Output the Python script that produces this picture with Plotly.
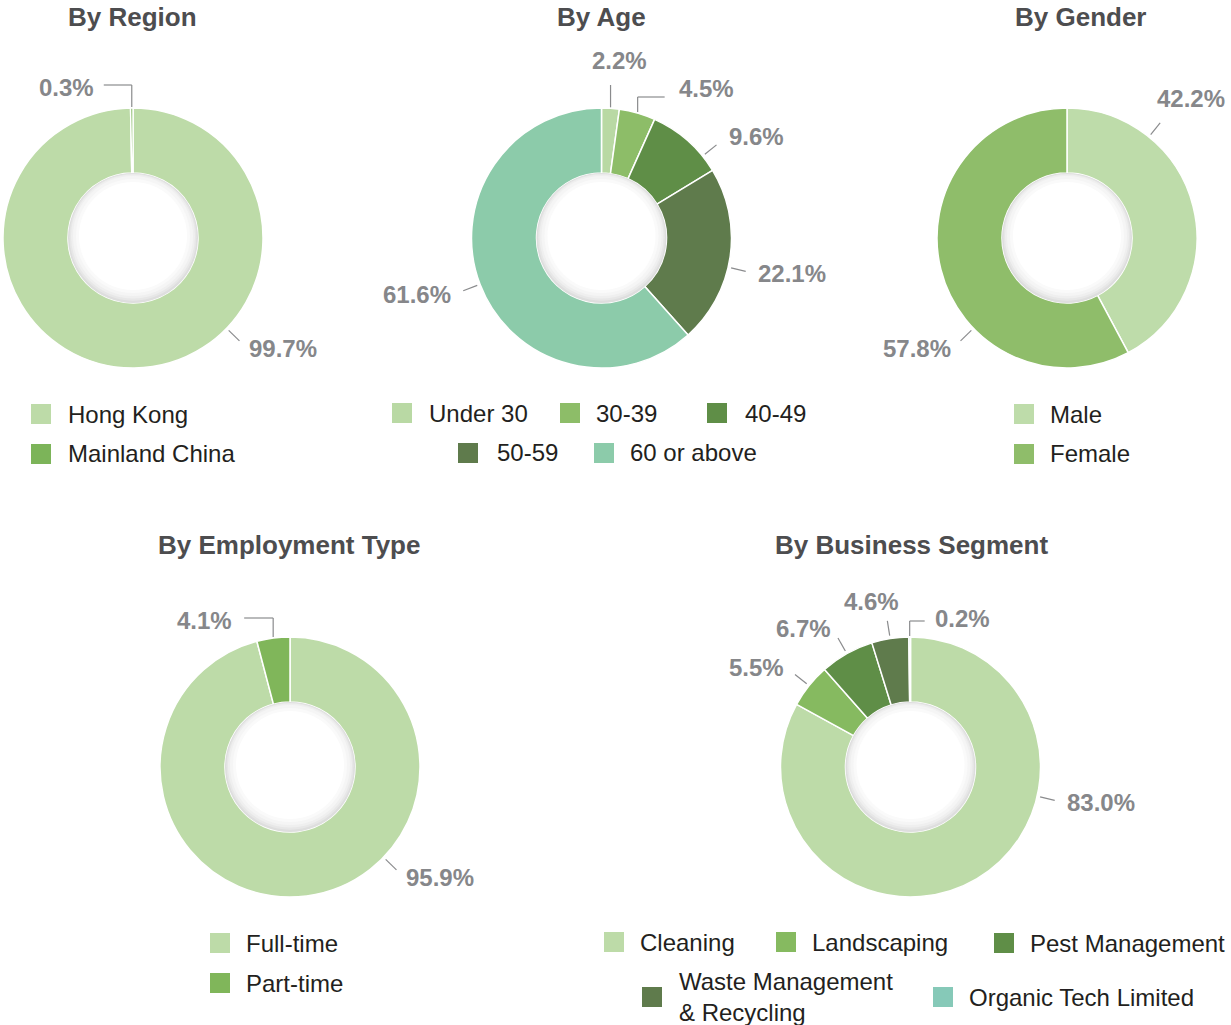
import math
import plotly.graph_objects as go

W, H = 1231, 1025

# ---------------- data ----------------
region_labels = ["Hong Kong", "Mainland China"]
region_values = [99.7, 0.3]

age_labels = ["Under 30", "30-39", "40-49", "50-59", "60 or above"]
age_values = [2.2, 4.5, 9.6, 22.1, 61.6]

gender_labels = ["Male", "Female"]
gender_values = [42.2, 57.8]

employment_labels = ["Full-time", "Part-time"]
employment_values = [95.9, 4.1]

segment_labels = ["Cleaning", "Landscaping", "Pest Management",
                  "Waste Management<br>& Recycling", "Organic Tech Limited"]
segment_values = [83.0, 5.5, 6.7, 4.6, 0.2]

# ---------------- styles ----------------
LIGHT = "#bddba8"
MID = "#86ba60"
DARK = "#5f8e47"
OLIVE = "#5f7b4c"
TEAL = "#8ccbaa"

region_colors = [LIGHT, "#7cb459"]
age_colors = ["#b9d9a4", "#8dbd68", DARK, OLIVE, TEAL]
gender_colors = ["#bedcaa", "#8fbd6a"]
employment_colors = [LIGHT, "#80b65a"]
segment_colors = [LIGHT, MID, DARK, OLIVE, "#86c9b8"]

PCT_FONT = dict(family="Liberation Sans Narrow, Arial Narrow, sans-serif",
                size=24, color="#86878a", weight="bold")
LEG_FONT = dict(family="Liberation Sans, Arial, sans-serif", size=24, color="#231f20")
TITLE_FONT = dict(family="Liberation Sans, Arial, sans-serif", size=26, color="#4d4d4f", weight="bold")
LINE_COLOR = "#8a8b8d"

R = 130          # outer radius (px)
HOLE = 0.5

# chart layout: center in px, title position, label specs, legend positions
charts = [
    dict(title="By Region", labels=region_labels, values=region_values, colors=region_colors,
         c=(133, 238), tx=132, ty=17,
         lab=[dict(kind="radial", angle=134),
              dict(kind="elbow", up=23, side=-28, tdy=3)],
         leg=[(41, 414, 66), (41, 454, 66)]),
    dict(title="By Age", labels=age_labels, values=age_values, colors=age_colors,
         c=(601.5, 238), tx=601, ty=17,
         lab=[dict(kind="elbow", up=23, side=0),
              dict(kind="elbow", up=11, side=27, tgap=12, tdy=-8),
              dict(kind="radial", angle=51, gap=2),
              dict(kind="radial", angle=103),
              dict(kind="radial", angle=None)],
         leg=[(402, 413, 427), (570, 413, 594), (717, 413, 743),
              (468, 453, 495), (604, 453, 628)]),
    dict(title="By Gender", labels=gender_labels, values=gender_values, colors=gender_colors,
         c=(1067, 238), tx=1081, ty=17,
         lab=[dict(kind="radial", angle=39, tdx=-12, tdy=-16),
              dict(kind="radial", angle=226)],
         leg=[(1024, 414, 1048), (1024, 454, 1048)]),
    dict(title="By Employment Type", labels=employment_labels, values=employment_values,
         colors=employment_colors, c=(290, 767), tx=289, ty=545,
         lab=[dict(kind="radial", angle=134),
              dict(kind="elbow", up=19, side=-29, tdy=2, tgap=10)],
         leg=[(220, 943, 244), (220, 983, 244)]),
    dict(title="By Business Segment", labels=segment_labels, values=segment_values,
         colors=segment_colors, c=(910.5, 767), tx=911, ty=545,
         lab=[dict(kind="radial", angle=103),
              dict(kind="radial", angle=None),
              dict(kind="radial", angle=None),
              dict(kind="radial", angle=None, tdx=-14, tdy=-2),
              dict(kind="elbow", up=16, side=15, tdy=-3)],
         leg=[(614, 942, 638), (786, 942, 810), (1004, 943, 1028),
              (652, 997, 677), (943, 997, 967)]),
]


def px(x):
    return x / W


def py(y):
    return 1 - y / H


fig = go.Figure()
shapes = []
annotations = []


def add_line(x0, y0, x1, y1):
    shapes.append(dict(type="line", xref="paper", yref="paper",
                       x0=px(x0), y0=py(y0), x1=px(x1), y1=py(y1),
                       line=dict(color=LINE_COLOR, width=1.2)))


for ch in charts:
    cx, cy = ch["c"]
    fig.add_trace(go.Pie(
        labels=ch["labels"], values=ch["values"],
        marker=dict(colors=ch["colors"], line=dict(color="white", width=1.5)),
        hole=HOLE, sort=False, direction="clockwise", rotation=0,
        textinfo="none", showlegend=False, hoverinfo="label+percent",
        domain=dict(x=[px(cx - R), px(cx + R)], y=[py(cy + R), py(cy - R)]),
    ))

    # soft inner shadow of the hole (slightly offset downward)
    rh = R * HOLE
    for dr, col, off in [(0, "#dedede", 0.0), (1.5, "#e7e7e7", -0.8), (3, "#efefef", -1.5),
                         (5, "#f5f5f5", -2.0), (8, "#fafafa", -2.0), (11, "#ffffff", -2.0)]:
        r = rh - dr
        shapes.append(dict(type="circle", xref="paper", yref="paper", layer="above",
                           x0=px(cx - r), x1=px(cx + r),
                           y0=py(cy + r + off), y1=py(cy - r + off),
                           fillcolor=col, line=dict(width=0)))

    # title
    annotations.append(dict(text=ch["title"], x=px(ch["tx"]), y=py(ch["ty"]),
                            xref="paper", yref="paper", xanchor="center", yanchor="middle",
                            showarrow=False, font=TITLE_FONT))

    # percentage labels
    total = sum(ch["values"])
    cum = 0.0
    for v, spec in zip(ch["values"], ch["lab"]):
        mid = (cum + v / 2) / total * 360.0
        cum += v
        text = f"{v:.1f}%"
        if spec["kind"] == "radial":
            ang = spec["angle"] if spec.get("angle") is not None else mid
            a = math.radians(ang)
            s, c = math.sin(a), math.cos(a)
            x0, y0 = cx + (R + 3) * s, cy - (R + 3) * c
            x1, y1 = cx + (R + 18) * s, cy - (R + 18) * c
            add_line(x0, y0, x1, y1)
            g = R + 29 + spec.get("gap", 0)
            tx, ty = cx + g * s, cy - g * c
            if s > 0.25:
                xa, ya = "left", "middle"
            elif s < -0.25:
                xa, ya = "right", "middle"
            else:
                xa, ya = "center", ("bottom" if c > 0 else "top")
                ty = cy - (R + 20) * c
        else:
            a = math.radians(mid)
            x0, y0 = cx + (R + 1) * math.sin(a), cy - (R + 1) * math.cos(a)
            y1 = cy - R - spec["up"]
            add_line(x0, y0, x0, y1)
            side = spec["side"]
            if side == 0:
                tx, ty, xa, ya = x0 + 9, y1 - 9, "center", "bottom"
            else:
                add_line(x0, y1, x0 + side, y1)
                sg = 1 if side > 0 else -1
                tx, ty = x0 + side + spec.get("tgap", 8) * sg, y1
                xa, ya = ("left" if sg > 0 else "right"), "middle"
        tx += spec.get("tdx", 0)
        ty += spec.get("tdy", 0)
        annotations.append(dict(text=text, x=px(tx), y=py(ty), xref="paper", yref="paper",
                                xanchor=xa, yanchor=ya, showarrow=False, font=PCT_FONT))

    # legend (manual)
    for lab, col, (sx, sy, tx) in zip(ch["labels"], ch["colors"], ch["leg"]):
        shapes.append(dict(type="rect", xref="paper", yref="paper",
                           x0=px(sx - 10), x1=px(sx + 10), y0=py(sy + 10), y1=py(sy - 10),
                           fillcolor=col, line=dict(width=0)))
        annotations.append(dict(text=lab, x=px(tx), y=py(sy), xref="paper", yref="paper",
                                xanchor="left", yanchor="middle", align="left",
                                showarrow=False, font=LEG_FONT))

fig.update_layout(
    width=W, height=H,
    margin=dict(l=0, r=0, t=0, b=0),
    paper_bgcolor="white", plot_bgcolor="white",
    shapes=shapes, annotations=annotations,
    showlegend=False,
)

fig.write_html("out.html", config={"displayModeBar": False},
               post_script="document.body.style.margin='0px';document.body.style.overflow='hidden';")
